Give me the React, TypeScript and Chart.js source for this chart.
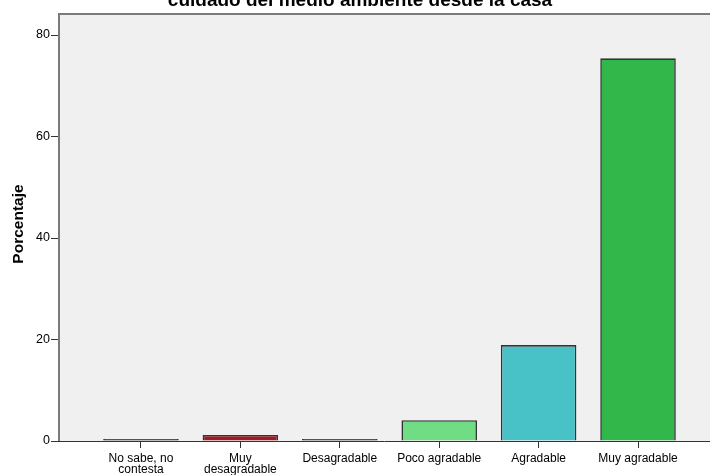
import React, { useEffect, useRef } from "react";
import { Chart, registerables } from "chart.js";

Chart.register(...registerables);

const categories: (string | string[])[] = [
  ["No sabe, no", "contesta"],
  ["Muy", "desagradable"],
  "Desagradable",
  "Poco agradable",
  "Agradable",
  "Muy agradable",
];
const percentages = [0.4, 1.2, 0.4, 4.1, 18.9, 75.4];
const barColors = ["#2b2b2b", "#a11b21", "#2b2b2b", "#70dc84", "#48c2c7", "#31b74a"];
const yTickValues = [0, 20, 40, 60, 80];
const chartTitle = "cuidado del medio ambiente desde la casa";
const yAxisTitle = "Porcentaje";

const FONT = "'Liberation Sans', Arial, Helvetica, sans-serif";

const framePlugin = {
  id: "spssFrame",
  beforeDatasetsDraw(chart: any) {
    const { ctx, chartArea } = chart;
    ctx.save();
    ctx.fillStyle = "#f0f0f0";
    ctx.fillRect(chartArea.left, chartArea.top, chartArea.right - chartArea.left, chartArea.bottom - chartArea.top);
    ctx.restore();
  },
  afterDraw(chart: any) {
    const { ctx, chartArea } = chart;
    ctx.save();
    ctx.strokeStyle = "#7a7a7a";
    ctx.lineWidth = 2;
    ctx.beginPath();
    ctx.moveTo(chartArea.left, chartArea.bottom);
    ctx.lineTo(chartArea.left, chartArea.top);
    ctx.lineTo(chartArea.right + 2, chartArea.top);
    ctx.stroke();
    ctx.strokeStyle = "#333333";
    ctx.lineWidth = 1;
    ctx.beginPath();
    ctx.moveTo(chartArea.left, chartArea.bottom + 0.5);
    ctx.lineTo(chartArea.right, chartArea.bottom + 0.5);
    ctx.stroke();
    // title (cut at top as in reference)
    ctx.fillStyle = "#000";
    ctx.font = `bold 19px ${FONT}`;
    ctx.textAlign = "center";
    ctx.textBaseline = "alphabetic";
    ctx.fillText(chartTitle, 360, 6);
    // y axis title
    ctx.translate(19, 224);
    ctx.rotate(-Math.PI / 2);
    ctx.font = `bold 15.5px ${FONT}`;
    ctx.textBaseline = "middle";
    ctx.fillText(yAxisTitle, 0, 0);
    ctx.restore();
  },
};

export default function App() {
  const canvasRef = useRef<HTMLCanvasElement | null>(null);

  useEffect(() => {
    const canvas = canvasRef.current;
    if (!canvas) return;
    const chart = new Chart(canvas, {
      type: "bar",
      data: {
        datasets: [
          {
            data: percentages.map((v, i) => ({ x: i, y: v })),
            backgroundColor: barColors,
            borderColor: "#333333",
            borderWidth: 1.6,
            barPercentage: 0.76,
            categoryPercentage: 1,
          },
        ],
      },
      options: {
        animation: false,
        responsive: false,
        maintainAspectRatio: false,
        layout: { padding: { top: 14, left: 0, right: 0, bottom: 0 } },
        plugins: {
          legend: { display: false },
          title: { display: false },
          tooltip: { enabled: false },
        },
        scales: {
          x: {
            type: "linear",
            min: -0.8245,
            max: 5.724,
            offset: false,
            afterBuildTicks: (scale: any) => {
              scale.ticks = categories.map((_, i) => ({ value: i }));
            },
            afterFit: (scale: any) => {
              scale.height = 34;
            },
            grid: {
              offset: false,
              drawOnChartArea: false,
              drawTicks: true,
              tickLength: 7,
              color: "#333333",
              lineWidth: 1,
            },
            border: { display: false },
            ticks: {
              autoSkip: false,
              maxRotation: 0,
              minRotation: 0,
              padding: 5,
              color: "#000",
              font: { family: FONT, size: 12, lineHeight: 0.92 },
              callback: (v: any) => categories[Math.round(Number(v))] as any,
            },
          },
          y: {
            type: "linear",
            min: 0,
            max: 84.14,
            afterBuildTicks: (scale: any) => {
              scale.ticks = yTickValues.map((v) => ({ value: v }));
            },
            afterFit: (scale: any) => {
              scale.width = 59;
            },
            grid: {
              drawOnChartArea: false,
              drawTicks: true,
              tickLength: 8,
              color: "#333333",
              lineWidth: 1,
            },
            border: { display: false },
            ticks: {
              padding: 1,
              color: "#000",
              font: { family: FONT, size: 12.5 },
            },
          },
        },
      },
      plugins: [framePlugin],
    });
    return () => chart.destroy();
  }, []);

  return (
    <div style={{ position: "fixed", left: 0, top: 0, width: 710, height: 475, background: "#fff" }}>
      <canvas ref={canvasRef} width={710} height={475} style={{ display: "block", width: 710, height: 475 }} />
    </div>
  );
}
